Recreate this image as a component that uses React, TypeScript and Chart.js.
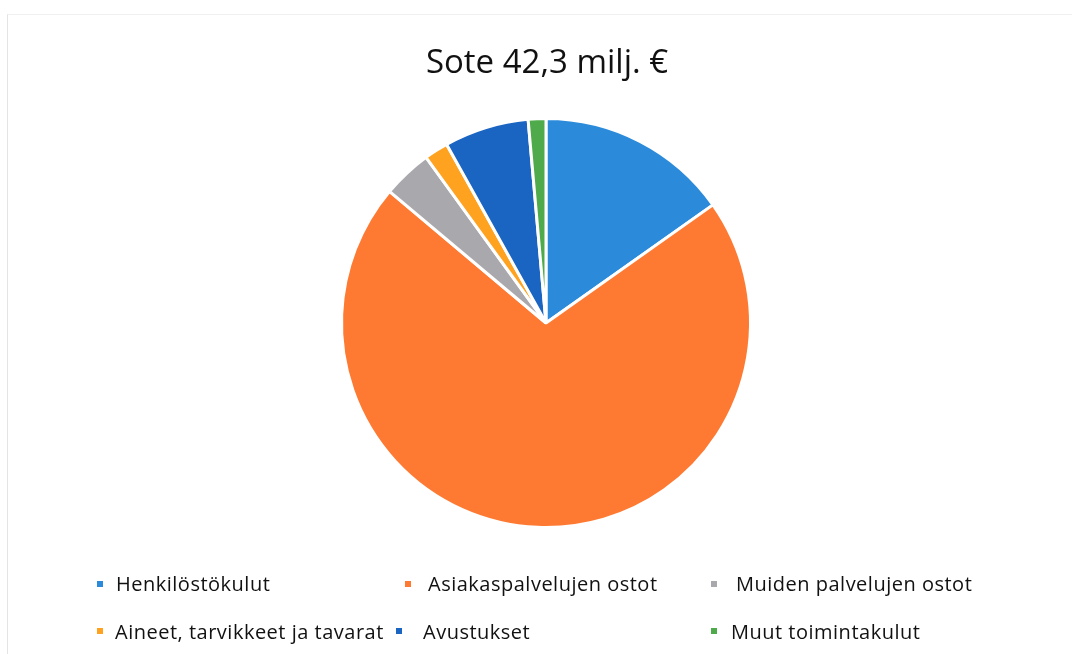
import React, { useEffect, useRef } from "react";
import { Chart, registerables } from "chart.js";

Chart.register(...registerables);

const titleText = "Sote 42,3 milj. €";
const categories = [
  "Henkilöstökulut",
  "Asiakaspalvelujen ostot",
  "Muiden palvelujen ostot",
  "Aineet, tarvikkeet ja tavarat",
  "Avustukset",
  "Muut toimintakulut",
];
// milj. € (total 42,3)
const values = [6.43, 30.0, 1.65, 0.8, 2.83, 0.59];
const colors = ["#2B8BDA", "#FE7A32", "#A9A8AD", "#FFA21F", "#1A64C2", "#4FAA4B"];

// legend layout (Excel-like two rows, three columns)
const legendPos = [
  { mx: 97, tx: 116, row: 0 },
  { mx: 405, tx: 428, row: 0 },
  { mx: 711, tx: 736, row: 0 },
  { mx: 97, tx: 115, row: 1 },
  { mx: 396, tx: 423, row: 1 },
  { mx: 711, tx: 731, row: 1 },
];
const rowTop = [574, 622];
const rowMarker = [581, 628];

export default function App() {
  const ref = useRef<HTMLCanvasElement | null>(null);

  useEffect(() => {
    if (!ref.current) return;
    const chart = new Chart(ref.current, {
      type: "pie",
      data: {
        labels: categories,
        datasets: [
          {
            data: values,
            backgroundColor: colors,
            borderColor: "#ffffff",
            borderWidth: 3,
          },
        ],
      },
      options: {
        responsive: false,
        animation: false,
        layout: { padding: { top: 117, bottom: 125, left: 20, right: 0 } },
        plugins: {
          legend: { display: false },
          tooltip: { enabled: false },
          title: { display: false },
        },
      },
    });
    return () => chart.destroy();
  }, []);

  return (
    <div
      style={{
        position: "absolute",
        left: 0,
        top: 0,
        width: 1072,
        height: 654,
        background: "#ffffff",
        overflow: "hidden",
        fontFamily: "'Open Sans', sans-serif",
        color: "#111",
      }}
    >
      <div
        style={{
          position: "absolute",
          left: 7,
          top: 14,
          width: 1100,
          height: 700,
          borderLeft: "1px solid #e4e4e4",
          borderTop: "1px solid #f0f0f0",
        }}
      />
      <canvas ref={ref} width={1072} height={654} style={{ position: "absolute", left: 0, top: 0 }} />
      <div
        style={{
          position: "absolute",
          left: 0,
          width: 1094,
          top: 44,
          textAlign: "center",
          fontSize: 33,
          lineHeight: 1,
          whiteSpace: "nowrap",
        }}
      >
        {titleText}
      </div>
      {categories.map((c, i) => {
        const p = legendPos[i];
        return (
          <React.Fragment key={c}>
            <div
              style={{
                position: "absolute",
                left: p.mx,
                top: rowMarker[p.row],
                width: 6,
                height: 6,
                background: colors[i],
              }}
            />
            <div
              style={{
                position: "absolute",
                left: p.tx,
                top: rowTop[p.row],
                fontSize: 20,
                lineHeight: 1,
                letterSpacing: "0.5px",
                whiteSpace: "nowrap",
              }}
            >
              {c}
            </div>
          </React.Fragment>
        );
      })}
    </div>
  );
}
